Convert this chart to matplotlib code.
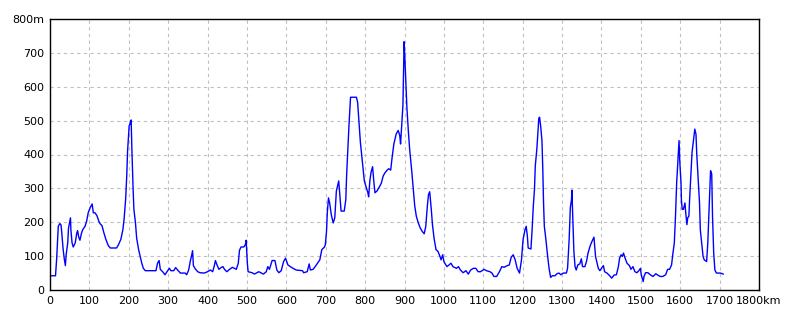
import matplotlib
matplotlib.use('Agg')
import matplotlib.pyplot as plt

# distance (km) / altitude (m)
km = [0, 14, 17, 21, 25, 28, 30, 33, 36, 39, 41, 45, 47, 52, 53, 56, 59, 64, 68, 70,
      73, 76, 80, 83, 89, 93, 97, 102, 107, 110, 114, 119, 124, 127, 132, 137, 142, 148, 153, 169,
      174, 180, 185, 188, 192, 195, 197, 201, 203, 206, 208, 211, 213, 217, 220, 225, 229, 233, 237, 242,
      250, 269, 273, 277, 280, 286, 292, 297, 303, 307, 314, 319, 324, 331, 343, 347, 352, 356, 359, 362,
      364, 369, 375, 381, 392, 400, 407, 413, 417, 420, 424, 429, 434, 439, 443, 449, 456, 463, 468, 473,
      478, 481, 485, 492, 496, 498, 501, 503, 513, 519, 525, 530, 542, 549, 553, 557, 564, 571, 576, 581,
      587, 593, 598, 604, 610, 617, 625, 641, 644, 653, 658, 661, 668, 675, 685, 690, 697, 699, 702, 704,
      707, 710, 714, 719, 723, 727, 730, 733, 736, 739, 747, 751, 753, 756, 759, 763, 778, 781, 785, 788,
      791, 795, 798, 803, 807, 809, 812, 815, 819, 822, 825, 830, 835, 841, 846, 851, 856, 860, 865, 868,
      873, 879, 884, 888, 890, 893, 896, 899, 901, 904, 906, 910, 913, 918, 922, 926, 930, 935, 940, 945,
      950, 954, 958, 961, 964, 968, 971, 975, 980, 985, 990, 993, 997, 1000, 1005, 1008, 1013, 1018, 1023, 1032,
      1037, 1042, 1049, 1056, 1062, 1068, 1075, 1081, 1087, 1093, 1102, 1108, 1117, 1122, 1127, 1134, 1141, 1147, 1153, 1159,
      1166, 1171, 1176, 1181, 1186, 1192, 1197, 1201, 1206, 1209, 1212, 1214, 1221, 1224, 1227, 1230, 1232, 1236, 1239, 1241,
      1243, 1246, 1249, 1251, 1253, 1255, 1259, 1263, 1267, 1271, 1275, 1282, 1287, 1292, 1297, 1303, 1311, 1314, 1318, 1321,
      1324, 1325, 1328, 1330, 1333, 1336, 1340, 1345, 1349, 1352, 1358, 1362, 1366, 1371, 1375, 1379, 1381, 1385, 1389, 1392,
      1396, 1400, 1405, 1408, 1414, 1421, 1426, 1432, 1438, 1443, 1446, 1450, 1453, 1456, 1460, 1465, 1471, 1475, 1480, 1485,
      1490, 1495, 1499, 1501, 1506, 1508, 1512, 1518, 1524, 1531, 1538, 1543, 1549, 1556, 1563, 1568, 1573, 1578, 1581, 1585,
      1588, 1591, 1595, 1597, 1599, 1602, 1603, 1605, 1608, 1612, 1614, 1617, 1619, 1622, 1624, 1627, 1630, 1634, 1637, 1640,
      1642, 1646, 1649, 1651, 1655, 1658, 1661, 1667, 1670, 1674, 1677, 1680, 1682, 1685, 1688, 1692, 1702, 1709]
alt = [42, 42, 94, 188, 196, 192, 168, 124, 94, 72, 104, 139, 183, 213, 178, 139, 127, 139, 168, 175,
       156, 147, 168, 178, 188, 203, 228, 243, 254, 228, 228, 220, 203, 196, 190, 168, 149, 131, 124, 124,
       134, 150, 178, 208, 267, 342, 411, 485, 490, 502, 411, 297, 238, 198, 153, 119, 99, 79, 64, 57,
       57, 57, 79, 87, 61, 54, 45, 54, 64, 57, 57, 66, 59, 50, 50, 45, 59, 84, 99, 116,
       72, 62, 54, 51, 50, 54, 59, 54, 71, 87, 74, 61, 66, 69, 61, 54, 61, 67, 64, 61,
       79, 117, 127, 127, 134, 147, 79, 54, 51, 47, 51, 54, 47, 54, 69, 61, 87, 87, 59, 51,
       57, 84, 94, 74, 69, 64, 59, 57, 51, 54, 77, 59, 61, 72, 89, 119, 127, 134, 173, 228,
       272, 257, 223, 198, 213, 292, 307, 322, 277, 233, 233, 267, 337, 411, 485, 569, 569, 554, 485, 436,
       401, 356, 322, 302, 287, 275, 322, 347, 364, 322, 287, 292, 302, 315, 337, 347, 354, 358, 354, 386,
       431, 461, 471, 456, 431, 490, 545, 733, 683, 594, 540, 465, 416, 356, 302, 248, 218, 198, 183, 173,
       166, 188, 248, 282, 290, 238, 193, 153, 119, 114, 99, 89, 104, 84, 74, 69, 74, 79, 69, 64,
       69, 59, 51, 57, 47, 59, 64, 64, 54, 54, 61, 57, 54, 50, 40, 40, 54, 69, 67, 71,
       74, 97, 104, 89, 64, 50, 89, 149, 178, 188, 158, 124, 121, 178, 248, 297, 366, 416, 470, 507,
       510, 480, 440, 361, 257, 188, 149, 104, 64, 37, 42, 42, 48, 50, 45, 50, 50, 64, 149, 243,
       267, 295, 188, 114, 69, 59, 74, 77, 92, 69, 69, 84, 109, 129, 141, 151, 156, 99, 79, 64,
       57, 64, 72, 54, 50, 42, 35, 44, 45, 69, 94, 104, 99, 109, 94, 79, 72, 61, 69, 54,
       51, 57, 64, 45, 25, 40, 51, 51, 45, 40, 48, 44, 40, 40, 45, 61, 61, 74, 104, 139,
       218, 317, 396, 441, 376, 317, 267, 238, 238, 257, 228, 193, 213, 218, 272, 337, 406, 446, 475, 460,
       401, 317, 257, 178, 134, 99, 89, 84, 139, 257, 352, 342, 218, 109, 59, 50, 50, 47]

x_ticks = list(range(0, 1900, 100))
x_labels = [str(v) for v in range(0, 1800, 100)] + ['1800km']
y_ticks = list(range(0, 900, 100))
y_labels = [str(v) for v in range(0, 800, 100)] + ['800m']

fig = plt.figure(figsize=(8, 3.2), dpi=100)
ax = fig.add_axes([50 / 800, 30 / 320, 709 / 800, 271 / 320])

ax.plot(km, alt, color='#0000ff', linewidth=1.0)

ax.set_xlim(0, 1800)
ax.set_ylim(0, 800)
ax.set_xticks(x_ticks)
ax.set_xticklabels(x_labels)
ax.set_yticks(y_ticks)
ax.set_yticklabels(y_labels)
ax.tick_params(length=0, labelsize=8, pad=4)

ax.grid(True, color='#c0c0c0', linestyle=(0, (3, 3)), linewidth=0.8)
ax.set_axisbelow(True)
for s in ax.spines.values():
    s.set_linewidth(1.0)
    s.set_color('black')

fig.savefig('out.png', dpi=100)
